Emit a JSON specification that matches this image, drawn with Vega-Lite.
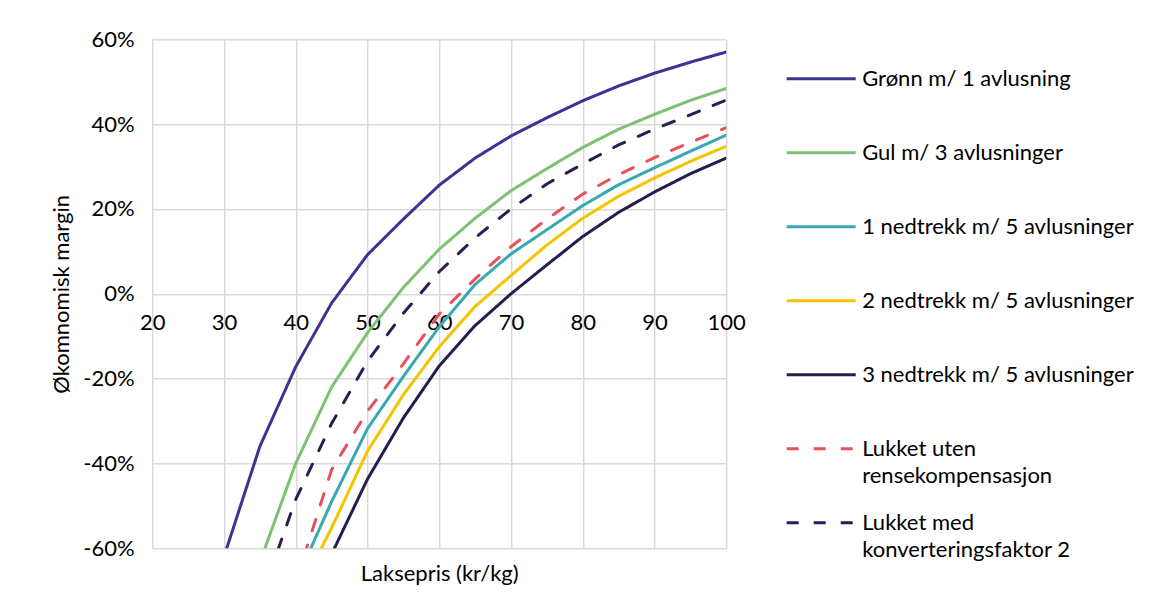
{
  "$schema": "https://vega.github.io/schema/vega-lite/v6.json",
  "width": 574,
  "height": 509,
  "autosize": {"type": "none"},
  "padding": {"left": 152.2, "top": 39.3, "right": 425.8, "bottom": 62.7},
  "background": "white",
  "config": {"view": {"stroke": null}, "font": "Lato", "style": {"guide-label": {"lineHeight": 27}}},
  "data": {
    "values": [
      {"s": "Grønn m/ 1 avlusning", "p": 30, "m": -0.62},
      {"s": "Grønn m/ 1 avlusning", "p": 35, "m": -0.36},
      {"s": "Grønn m/ 1 avlusning", "p": 40, "m": -0.172},
      {"s": "Grønn m/ 1 avlusning", "p": 45, "m": -0.022},
      {"s": "Grønn m/ 1 avlusning", "p": 50, "m": 0.092},
      {"s": "Grønn m/ 1 avlusning", "p": 55, "m": 0.176},
      {"s": "Grønn m/ 1 avlusning", "p": 60, "m": 0.256},
      {"s": "Grønn m/ 1 avlusning", "p": 65, "m": 0.32},
      {"s": "Grønn m/ 1 avlusning", "p": 70, "m": 0.372},
      {"s": "Grønn m/ 1 avlusning", "p": 75, "m": 0.415},
      {"s": "Grønn m/ 1 avlusning", "p": 80, "m": 0.455},
      {"s": "Grønn m/ 1 avlusning", "p": 85, "m": 0.49},
      {"s": "Grønn m/ 1 avlusning", "p": 90, "m": 0.52},
      {"s": "Grønn m/ 1 avlusning", "p": 95, "m": 0.546},
      {"s": "Grønn m/ 1 avlusning", "p": 100, "m": 0.57},
      {"s": "Gul m/ 3 avlusninger", "p": 35, "m": -0.633},
      {"s": "Gul m/ 3 avlusninger", "p": 40, "m": -0.40},
      {"s": "Gul m/ 3 avlusninger", "p": 45, "m": -0.22},
      {"s": "Gul m/ 3 avlusninger", "p": 50, "m": -0.092},
      {"s": "Gul m/ 3 avlusninger", "p": 55, "m": 0.015},
      {"s": "Gul m/ 3 avlusninger", "p": 60, "m": 0.105},
      {"s": "Gul m/ 3 avlusninger", "p": 65, "m": 0.178},
      {"s": "Gul m/ 3 avlusninger", "p": 70, "m": 0.243},
      {"s": "Gul m/ 3 avlusninger", "p": 75, "m": 0.295},
      {"s": "Gul m/ 3 avlusninger", "p": 80, "m": 0.345},
      {"s": "Gul m/ 3 avlusninger", "p": 85, "m": 0.388},
      {"s": "Gul m/ 3 avlusninger", "p": 90, "m": 0.423},
      {"s": "Gul m/ 3 avlusninger", "p": 95, "m": 0.456},
      {"s": "Gul m/ 3 avlusninger", "p": 100, "m": 0.484},
      {"s": "1 nedtrekk m/ 5 avlusninger", "p": 40, "m": -0.68},
      {"s": "1 nedtrekk m/ 5 avlusninger", "p": 45, "m": -0.49},
      {"s": "1 nedtrekk m/ 5 avlusninger", "p": 50, "m": -0.318},
      {"s": "1 nedtrekk m/ 5 avlusninger", "p": 55, "m": -0.195},
      {"s": "1 nedtrekk m/ 5 avlusninger", "p": 60, "m": -0.078},
      {"s": "1 nedtrekk m/ 5 avlusninger", "p": 65, "m": 0.022},
      {"s": "1 nedtrekk m/ 5 avlusninger", "p": 70, "m": 0.094},
      {"s": "1 nedtrekk m/ 5 avlusninger", "p": 75, "m": 0.151},
      {"s": "1 nedtrekk m/ 5 avlusninger", "p": 80, "m": 0.208},
      {"s": "1 nedtrekk m/ 5 avlusninger", "p": 85, "m": 0.257},
      {"s": "1 nedtrekk m/ 5 avlusninger", "p": 90, "m": 0.297},
      {"s": "1 nedtrekk m/ 5 avlusninger", "p": 95, "m": 0.336},
      {"s": "1 nedtrekk m/ 5 avlusninger", "p": 100, "m": 0.374},
      {"s": "2 nedtrekk m/ 5 avlusninger", "p": 40, "m": -0.72},
      {"s": "2 nedtrekk m/ 5 avlusninger", "p": 45, "m": -0.552},
      {"s": "2 nedtrekk m/ 5 avlusninger", "p": 50, "m": -0.371},
      {"s": "2 nedtrekk m/ 5 avlusninger", "p": 55, "m": -0.238},
      {"s": "2 nedtrekk m/ 5 avlusninger", "p": 60, "m": -0.125},
      {"s": "2 nedtrekk m/ 5 avlusninger", "p": 65, "m": -0.03},
      {"s": "2 nedtrekk m/ 5 avlusninger", "p": 70, "m": 0.043},
      {"s": "2 nedtrekk m/ 5 avlusninger", "p": 75, "m": 0.115},
      {"s": "2 nedtrekk m/ 5 avlusninger", "p": 80, "m": 0.178},
      {"s": "2 nedtrekk m/ 5 avlusninger", "p": 85, "m": 0.23},
      {"s": "2 nedtrekk m/ 5 avlusninger", "p": 90, "m": 0.273},
      {"s": "2 nedtrekk m/ 5 avlusninger", "p": 95, "m": 0.312},
      {"s": "2 nedtrekk m/ 5 avlusninger", "p": 100, "m": 0.348},
      {"s": "3 nedtrekk m/ 5 avlusninger", "p": 45, "m": -0.614},
      {"s": "3 nedtrekk m/ 5 avlusninger", "p": 50, "m": -0.437},
      {"s": "3 nedtrekk m/ 5 avlusninger", "p": 55, "m": -0.293},
      {"s": "3 nedtrekk m/ 5 avlusninger", "p": 60, "m": -0.17},
      {"s": "3 nedtrekk m/ 5 avlusninger", "p": 65, "m": -0.075},
      {"s": "3 nedtrekk m/ 5 avlusninger", "p": 70, "m": 0.0},
      {"s": "3 nedtrekk m/ 5 avlusninger", "p": 75, "m": 0.068},
      {"s": "3 nedtrekk m/ 5 avlusninger", "p": 80, "m": 0.135},
      {"s": "3 nedtrekk m/ 5 avlusninger", "p": 85, "m": 0.192},
      {"s": "3 nedtrekk m/ 5 avlusninger", "p": 90, "m": 0.24},
      {"s": "3 nedtrekk m/ 5 avlusninger", "p": 95, "m": 0.283},
      {"s": "3 nedtrekk m/ 5 avlusninger", "p": 100, "m": 0.32},
      {"s": "Lukket uten rensekompensasjon", "p": 40, "m": -0.68},
      {"s": "Lukket uten rensekompensasjon", "p": 45, "m": -0.415},
      {"s": "Lukket uten rensekompensasjon", "p": 50, "m": -0.277},
      {"s": "Lukket uten rensekompensasjon", "p": 55, "m": -0.165},
      {"s": "Lukket uten rensekompensasjon", "p": 60, "m": -0.048},
      {"s": "Lukket uten rensekompensasjon", "p": 65, "m": 0.035},
      {"s": "Lukket uten rensekompensasjon", "p": 70, "m": 0.111},
      {"s": "Lukket uten rensekompensasjon", "p": 75, "m": 0.176},
      {"s": "Lukket uten rensekompensasjon", "p": 80, "m": 0.235},
      {"s": "Lukket uten rensekompensasjon", "p": 85, "m": 0.281},
      {"s": "Lukket uten rensekompensasjon", "p": 90, "m": 0.321},
      {"s": "Lukket uten rensekompensasjon", "p": 95, "m": 0.357},
      {"s": "Lukket uten rensekompensasjon", "p": 100, "m": 0.392},
      {"s": "Lukket med konverteringsfaktor 2", "p": 35, "m": -0.725},
      {"s": "Lukket med konverteringsfaktor 2", "p": 40, "m": -0.485},
      {"s": "Lukket med konverteringsfaktor 2", "p": 45, "m": -0.306},
      {"s": "Lukket med konverteringsfaktor 2", "p": 50, "m": -0.159},
      {"s": "Lukket med konverteringsfaktor 2", "p": 55, "m": -0.046},
      {"s": "Lukket med konverteringsfaktor 2", "p": 60, "m": 0.052},
      {"s": "Lukket med konverteringsfaktor 2", "p": 65, "m": 0.132},
      {"s": "Lukket med konverteringsfaktor 2", "p": 70, "m": 0.20},
      {"s": "Lukket med konverteringsfaktor 2", "p": 75, "m": 0.259},
      {"s": "Lukket med konverteringsfaktor 2", "p": 80, "m": 0.306},
      {"s": "Lukket med konverteringsfaktor 2", "p": 85, "m": 0.351},
      {"s": "Lukket med konverteringsfaktor 2", "p": 90, "m": 0.388},
      {"s": "Lukket med konverteringsfaktor 2", "p": 95, "m": 0.422},
      {"s": "Lukket med konverteringsfaktor 2", "p": 100, "m": 0.457}
    ]
  },
  "mark": {"type": "line", "strokeWidth": 3, "clip": true, "strokeCap": "round", "strokeJoin": "round"},
  "encoding": {
    "x": {
      "field": "p",
      "type": "quantitative",
      "scale": {"domain": [20, 100], "nice": false, "zero": false},
      "axis": {
        "title": "Laksepris (kr/kg)",
        "values": [20, 30, 40, 50, 60, 70, 80, 90, 100],
        "offset": -254.5,
        "domain": false,
        "ticks": false,
        "labelPadding": 19,
        "labelFont": "Lato",
        "labelFontSize": 22,
        "labelColor": "#000000",
        "labelFlush": false,
        "labelOverlap": false,
        "grid": true,
        "gridColor": "#d9d9d9",
        "gridWidth": 1.5,
        "titleFont": "Lato",
        "titleFontSize": 22,
        "titleFontWeight": "normal",
        "titleColor": "#000000",
        "titleX": 287,
        "titleY": 287,
        "titleAlign": "center",
        "titleBaseline": "alphabetic"
      }
    },
    "y": {
      "field": "m",
      "type": "quantitative",
      "scale": {"domain": [-0.6, 0.6], "nice": false, "zero": false},
      "axis": {
        "title": "Økomnomisk margin",
        "values": [-0.6, -0.4, -0.2, 0, 0.2, 0.4, 0.6],
        "labelExpr": "(datum.value < 0 ? '-' : '') + format(abs(datum.value), '.0%')",
        "domain": false,
        "ticks": false,
        "labelPadding": 18,
        "labelFont": "Lato",
        "labelFontSize": 22,
        "labelColor": "#000000",
        "labelFlush": false,
        "labelOverlap": false,
        "grid": true,
        "gridColor": "#d9d9d9",
        "gridWidth": 1.5,
        "titleFont": "Lato",
        "titleFontSize": 22,
        "titleFontWeight": "normal",
        "titleColor": "#000000",
        "titleX": -91,
        "titleY": 254.5,
        "titleAngle": 270,
        "titleAlign": "center",
        "titleBaseline": "middle"
      }
    },
    "color": {
      "field": "s",
      "type": "nominal",
      "scale": {
        "domain": ["Grønn m/ 1 avlusning", "Gul m/ 3 avlusninger", "1 nedtrekk m/ 5 avlusninger", "2 nedtrekk m/ 5 avlusninger", "3 nedtrekk m/ 5 avlusninger", "Lukket uten rensekompensasjon", "Lukket med konverteringsfaktor 2"],
        "range": ["#3d3393", "#7dc273", "#38a8b4", "#f5c300", "#231e50", "#e8505a", "#241f55"]
      },
      "legend": {
        "title": null,
        "orient": "none",
        "legendX": 633,
        "legendY": 3.5,
        "padding": 0,
        "symbolType": "stroke",
        "symbolSize": 4761,
        "symbolStrokeWidth": 3,
        "labelFont": "Lato",
        "labelFontSize": 22,
        "labelColor": "#000000",
        "labelLimit": 600,
        "labelOffset": 5,
        "labelBaseline": "middle",
        "rowPadding": 0,
        "labelExpr": "datum.label == 'Lukket uten rensekompensasjon' ? ['Lukket uten', 'rensekompensasjon'] : datum.label == 'Lukket med konverteringsfaktor 2' ? ['Lukket med', 'konverteringsfaktor 2'] : [datum.label, '']"
      }
    },
    "strokeDash": {
      "field": "s",
      "type": "nominal",
      "scale": {
        "domain": ["Grønn m/ 1 avlusning", "Gul m/ 3 avlusninger", "1 nedtrekk m/ 5 avlusninger", "2 nedtrekk m/ 5 avlusninger", "3 nedtrekk m/ 5 avlusninger", "Lukket uten rensekompensasjon", "Lukket med konverteringsfaktor 2"],
        "range": [[1, 0], [1, 0], [1, 0], [1, 0], [1, 0], [12, 15], [12, 15]]
      },
      "legend": {
        "title": null,
        "orient": "none",
        "legendX": 633,
        "legendY": 3.5,
        "padding": 0,
        "symbolType": "stroke",
        "symbolSize": 4761,
        "symbolStrokeWidth": 3,
        "labelFont": "Lato",
        "labelFontSize": 22,
        "labelColor": "#000000",
        "labelLimit": 600,
        "labelOffset": 5,
        "labelBaseline": "middle",
        "rowPadding": 0,
        "labelExpr": "datum.label == 'Lukket uten rensekompensasjon' ? ['Lukket uten', 'rensekompensasjon'] : datum.label == 'Lukket med konverteringsfaktor 2' ? ['Lukket med', 'konverteringsfaktor 2'] : [datum.label, '']"
      }
    }
  }
}
